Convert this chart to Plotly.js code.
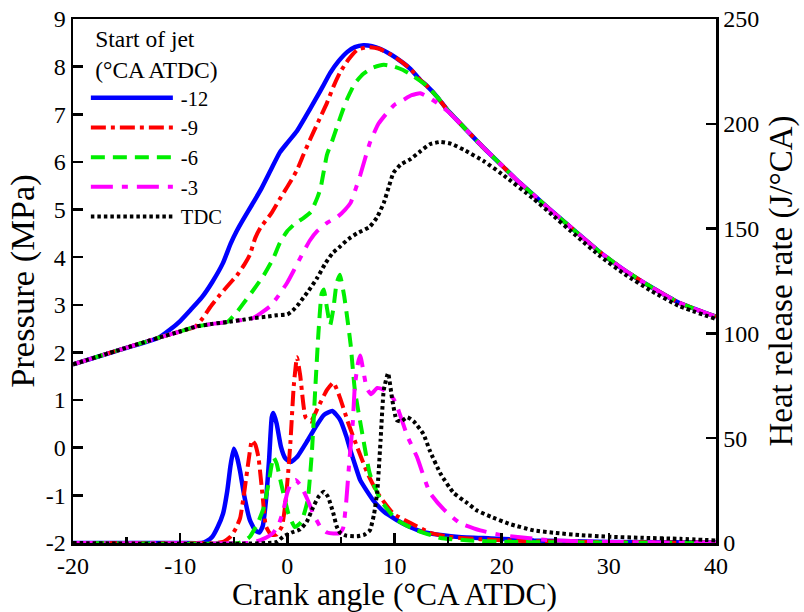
<!DOCTYPE html>
<html>
<head>
<meta charset="utf-8">
<script src="https://cdn.plot.ly/plotly-3.0.1.min.js"></script>
<style>
html,body{margin:0;padding:0;background:#fff}
#chart svg text{font-family:'Liberation Serif','Times New Roman',serif !important}
</style>
</head>
<body>
<div id="chart" style="width:804px;height:612px"></div>
<script>
// Series labels (start of jet, °CA ATDC)
const seriesNames = ['-12', '-9', '-6', '-3', 'TDC'];

// Cylinder pressure (MPa) vs crank angle
const angP12 = [-20,-16,-12,-11,-10,-9,-8,-7,-6,-5.3,-4.7,-4.1,-3.3,-2.4,-1.5,-0.7,0,0.9,1.7,2.6,3.3,4,4.8,5.6,6.3,7.1,7.9,8.7,9.7,10.8,11.5,12.4,13,14,14.9,16.5,18.3,20,21.4,23,24.5,27,29.2,31.5,33.9,36.5,40];
const pres12 = [1.75,2.03,2.31,2.47,2.66,2.9,3.15,3.48,3.88,4.28,4.56,4.8,5.1,5.45,5.85,6.2,6.4,6.65,6.95,7.3,7.58,7.87,8.12,8.31,8.41,8.45,8.43,8.37,8.25,8.08,7.95,7.72,7.6,7.36,7.1,6.72,6.3,5.93,5.62,5.3,5.0,4.52,4.1,3.72,3.38,3.05,2.75];

const angP9 = [-20,-16,-12,-10,-8.6,-7.9,-7.2,-6.4,-5.6,-4.7,-4,-3.5,-3,-2.5,-1.5,-0.5,0.2,0.9,1.5,2.1,2.9,3.7,4.3,4.9,5.7,6.5,7.5,8.5,9.7,10.8,11.5,12.4,13,14,14.9,16.5,18.3,20,21.4,23,24.5,27,29.2,31.5,33.9,36.5,40];
const pres9 = [1.75,2.03,2.31,2.44,2.54,2.72,2.95,3.18,3.39,3.62,3.85,4.05,4.4,4.62,4.92,5.3,5.55,5.83,6.15,6.46,6.85,7.24,7.58,7.87,8.15,8.35,8.41,8.38,8.25,8.08,7.95,7.72,7.6,7.36,7.1,6.72,6.3,5.93,5.62,5.3,5.0,4.52,4.1,3.72,3.38,3.05,2.75];

const angP6 = [-20,-16,-12,-10,-8.6,-7,-5.6,-4.8,-4.1,-3.2,-2.2,-1.3,-0.7,0,0.8,1.5,2.2,2.8,3.1,3.7,4.2,4.7,5.2,5.6,6.3,7.1,8,9,10,10.8,11.5,12.4,13,14,14.9,16.5,18.3,20,21.4,23,24.5,27,29.2,31.5,33.9,36.5,40];
const pres6 = [1.75,2.03,2.31,2.44,2.54,2.6,2.64,2.82,3.03,3.3,3.62,3.98,4.3,4.55,4.72,4.82,4.95,5.25,5.45,6.15,6.45,6.78,7.1,7.33,7.65,7.85,7.98,8.04,8.0,7.93,7.84,7.7,7.6,7.36,7.1,6.72,6.3,5.93,5.62,5.3,5.0,4.52,4.1,3.72,3.38,3.05,2.75];

const angP3 = [-20,-16,-12,-10,-8.6,-7,-5.6,-4,-3.2,-2.5,-1.6,-0.8,0,0.6,1.2,2.1,2.8,3.7,4.7,5.4,5.9,6.4,6.8,7.7,8.5,9.3,10,10.8,11.6,12.4,13.3,14.2,15,16.5,18.3,20,21.4,23,24.5,27,29.2,31.5,33.9,36.5,40];
const pres3 = [1.75,2.03,2.31,2.44,2.54,2.6,2.64,2.69,2.72,2.82,2.97,3.2,3.47,3.72,3.98,4.35,4.55,4.72,4.85,5.0,5.14,5.45,5.72,6.4,6.8,7.03,7.2,7.3,7.4,7.44,7.34,7.2,7.06,6.72,6.3,5.93,5.62,5.3,5.0,4.52,4.1,3.72,3.38,3.05,2.75];

const angPT = [-20,-16,-12,-10,-8.6,-7,-5.6,-4,-3.2,-2,-1,0,0.5,1,1.5,2,2.8,3.5,4.2,4.9,5.7,6.5,7.7,8.4,9,9.5,9.9,10.6,11.5,12.4,13.3,14.3,15.3,16.5,18.3,20,23,24.5,27,29.2,31.5,33.9,36.5,40];
const presT = [1.75,2.03,2.31,2.44,2.54,2.6,2.64,2.69,2.72,2.75,2.78,2.8,2.88,3.0,3.15,3.3,3.57,3.85,4.08,4.22,4.38,4.5,4.64,4.85,5.14,5.5,5.77,5.95,6.06,6.22,6.37,6.42,6.38,6.25,6.02,5.75,5.22,4.93,4.44,4.02,3.64,3.3,2.98,2.7];

// Heat release rate (J/°CA) vs crank angle
const angH12 = [-20,-10,-8,-7.5,-7,-6.5,-6,-5.6,-5.3,-5,-4.7,-4.4,-4,-3.5,-3,-2.6,-2.3,-2,-1.7,-1.45,-1.3,-1,-0.6,-0.2,0.3,0.9,1.9,2.6,3.4,4.2,4.9,5.5,5.9,6.4,6.8,7.4,8,9,10.2,11.5,12.7,14.5,16,19,23,30,40];
const hrr12 = [0,0,0,1,3,7.6,14,25,37,45,41,34,22,11,6,5,8,20,40,60,62,57,46,40.5,38.6,41,49,55,61,63,59,51,44,36,30,25,20.5,15,11,7.5,5.2,3.7,2.9,2.2,1.2,0.5,0.2];

const angH9 = [-20,-7,-6,-5.3,-4.8,-4.4,-4,-3.6,-3.3,-3,-2.7,-2.3,-2,-1.5,-1,-0.5,-0.2,0.1,0.3,0.6,0.9,1.2,1.7,2.2,2.8,3.7,4.3,4.9,5.7,6.5,7.5,8.4,9.9,11.5,13.3,15,18,22,30,40];
const hrr9 = [0,0,0.5,3,7,12,25,40,49,47,41,22,8,4,4,8,18,35,49,75,88.6,80,60,58,64,73,76.5,69.5,57,46,33,24,14,9.5,5,3,1.8,1,0.4,0.2];

const angH6 = [-20,-4.5,-4,-3.5,-2.8,-2.2,-1.7,-1.3,-1,-0.65,-0.2,0.1,0.7,1.3,1.9,2.3,2.6,2.9,3.2,3.4,3.7,4,4.3,4.6,4.9,5.3,5.6,5.9,6.3,7,7.7,8.7,10.2,12.1,14.3,17,20,30,40];
const hrr6 = [0,0,1,3,9,17,30,41,38,30,20,14,7.6,10,20.5,44,73,100,119,121,112,104,112,124,128,118,107,95,73,52,33,20.5,11,6,2.4,1.2,0.6,0.2,0.1];

const angH3 = [-20,-3.5,-3,-2.5,-2,-1.3,-0.8,-0.4,0,0.4,0.8,1.3,1.9,2.5,3.1,3.7,4.3,4.9,5.2,5.5,5.8,6.1,6.3,6.6,6.8,7.1,7.4,7.8,8.4,9,9.6,10.1,10.8,11.2,12.1,13.3,14.6,16.1,18,20,24.3,30,40];
const hrr3 = [0,0,0.5,1.4,2.5,5,9,15,24,29,30,27,20.5,13,7.6,5,4.5,4.8,7,20,40,57,75,86,89.5,82,74,71,74,73,71,67,57,51,41,24,16,9.5,6,3.8,1.4,0.5,0.2];

const angHT = [-20,-1,-0.4,0.4,1.2,1.8,2.4,2.9,3.4,3.8,4.3,4.6,4.9,5.5,6.5,7.2,7.7,8.1,8.4,8.7,9,9.4,9.8,10.2,10.6,11.2,11.8,12.7,13.3,14.3,15.5,16.8,17.7,19,20.8,23,25,27.3,30,33,36.7,40];
const hrrT = [0,0.5,3,5,6.5,10,17,22,24.5,22,14,8,5,3.5,3.2,4,6,14,25,49,73,81,68,58.6,58,60,58,52,44,33,24,19,15.5,12.5,9,6,4.8,3.8,3,2.5,2,1.2];

// Axis tick labels (plain hyphen minus)
const xTickVals = [-20,-10,0,10,20,30,40];
const xTickText = ['-20','-10','0','10','20','30','40'];
const xMinorVals = [-15,-5,5,15,25,35];
const yTickVals = [-2,-1,0,1,2,3,4,5,6,7,8,9];
const yTickText = ['-2','-1','0','1','2','3','4','5','6','7','8','9'];
const y2TickVals = [0,50,100,150,200,250];
const y2TickText = ['0','50','100','150','200','250'];

const styles = [
  {color:'#0000ff', width:4.5, dash:'solid'},
  {color:'#ff0000', width:4, dash:'15px,5px,4px,5px'},
  {color:'#00ee00', width:4, dash:'14px,8px'},
  {color:'#ff00ff', width:4, dash:'22px,9px,6px,9px'},
  {color:'#000000', width:4, dash:'3.5px,3px'}
];

const pSeries = [[angP12,pres12],[angP9,pres9],[angP6,pres6],[angP3,pres3],[angPT,presT]];
const hSeries = [[angH12,hrr12],[angH9,hrr9],[angH6,hrr6],[angH3,hrr3],[angHT,hrrT]];

const traces = [];
pSeries.forEach((s, i) => {
  traces.push({
    x: s[0], y: s[1], type:'scatter', mode:'lines', name: seriesNames[i],
    legendgroup: 'g' + i, line: Object.assign({shape:'spline', smoothing:0.45}, styles[i]),
    xaxis:'x', yaxis:'y', hoverinfo:'skip'
  });
});
hSeries.forEach((s, i) => {
  traces.push({
    x: s[0], y: s[1], type:'scatter', mode:'lines', name: seriesNames[i],
    legendgroup: 'g' + i, showlegend:false,
    line: Object.assign({shape:'spline', smoothing:0.45}, styles[i]),
    xaxis:'x', yaxis:'y2', hoverinfo:'skip'
  });
});

const serif = 'Liberation Serif';

const axisCommon = {
  showline:true, linewidth:2.5, linecolor:'#000', showgrid:false, zeroline:false,
  ticks:'inside', ticklen:10, tickwidth:2.5, tickcolor:'#000',
  tickfont:{family:serif, size:24, color:'#000'}, tickmode:'array'
};

const layout = {
  width:804, height:612,
  margin:{l:73, r:88, t:19, b:69},
  paper_bgcolor:'#ffffff', plot_bgcolor:'#ffffff',
  font:{family:serif, size:24, color:'#000'},
  showlegend:true,
  legend:{
    x:0.02, y:1.004, xanchor:'left', yanchor:'top', bgcolor:'rgba(0,0,0,0)',
    font:{family:serif, size:20.5, color:'#000'}, itemwidth:85, tracegroupgap:0,
    title:{text:'Start of jet<br>(°CA ATDC)', side:'top center', font:{family:serif, size:23.5, color:'#000'}}
  },
  xaxis: Object.assign({}, axisCommon, {
    range:[-20,40], tickvals:xTickVals, ticktext:xTickText, mirror:true,
    minor:{tickmode:'array', tickvals:xMinorVals, ticks:'inside', ticklen:6, tickwidth:2.5, tickcolor:'#000', showgrid:false},
    title:{text:'Crank angle (°CA ATDC)', font:{family:serif, size:31.5, color:'#000'}, standoff:9}
  }),
  yaxis: Object.assign({}, axisCommon, {
    range:[-2,9], tickvals:yTickVals, ticktext:yTickText,
    title:{text:'Pressure (MPa)', font:{family:serif, size:34.5, color:'#000'}, standoff:1}
  }),
  yaxis2: Object.assign({}, axisCommon, {
    range:[0,250], tickvals:y2TickVals, ticktext:y2TickText,
    overlaying:'y', side:'right', anchor:'x',
    title:{text:'Heat release rate (J/°CA)', font:{family:serif, size:33, color:'#000'}, standoff:11}
  })
};

Plotly.newPlot('chart', traces, layout, {staticPlot:true, displayModeBar:false}).then(() => {
  // longer line samples in the legend
  document.querySelectorAll('.legend .legendlines path').forEach(p => p.setAttribute('d', 'M5,0h82'));
});
</script>
</body>
</html>
